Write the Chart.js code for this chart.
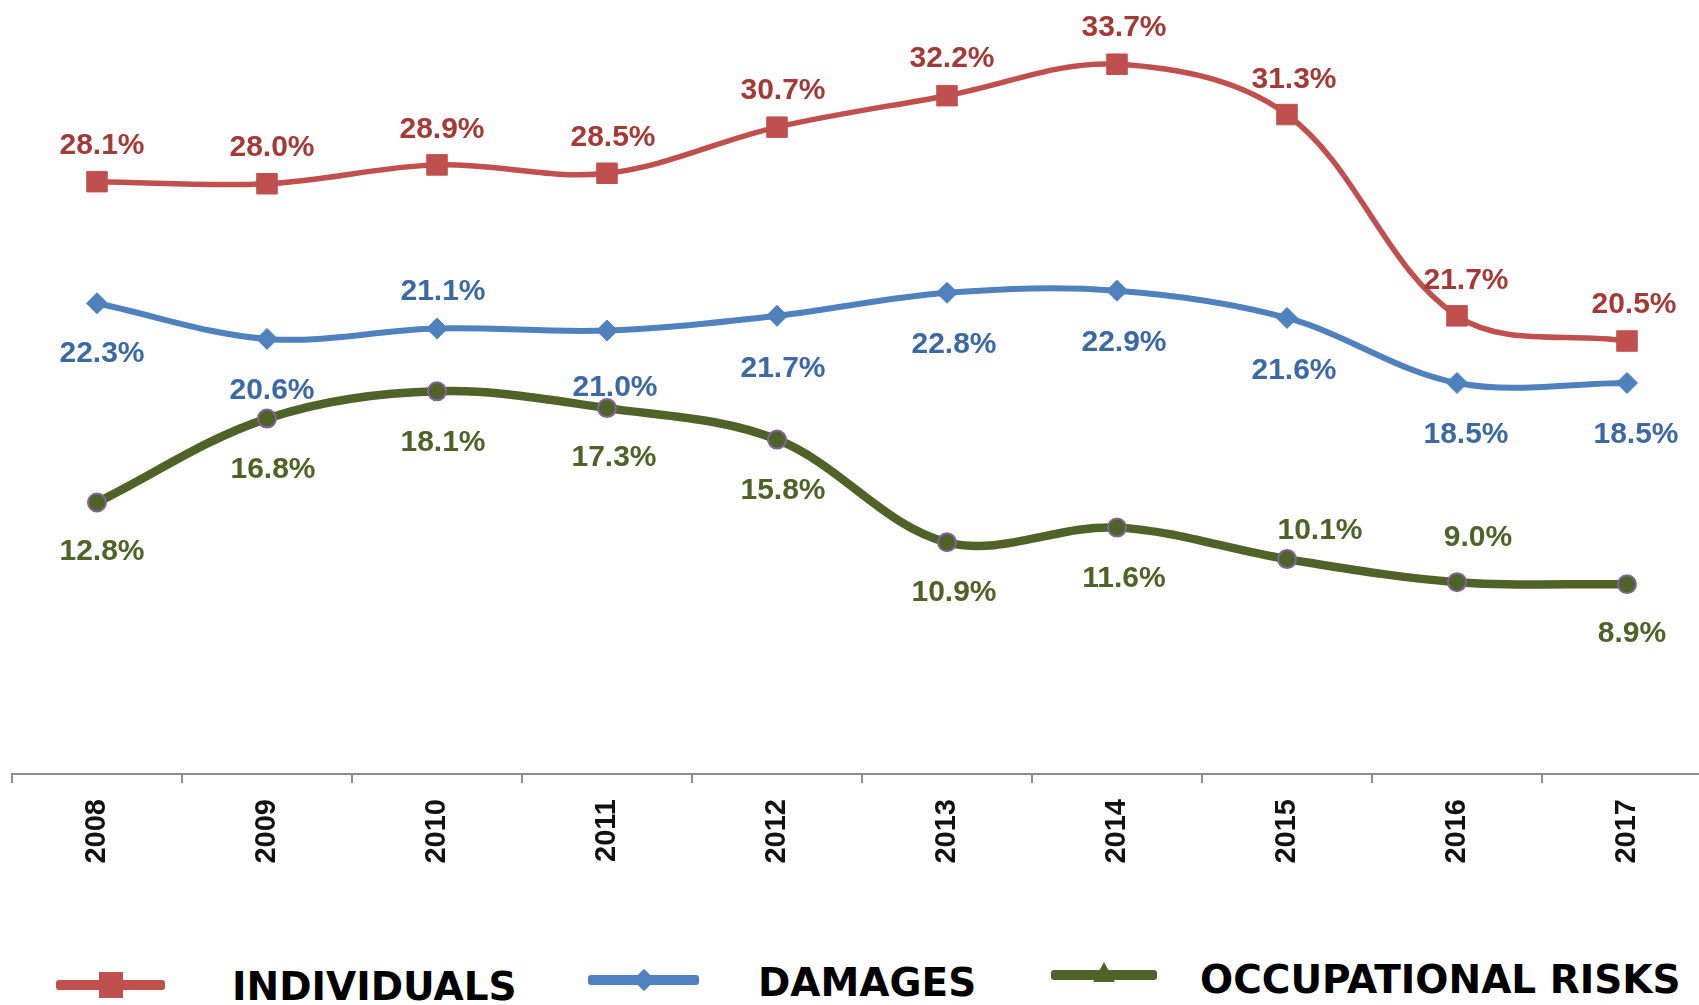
<!DOCTYPE html>
<html>
<head>
<meta charset="utf-8">
<script src="https://cdn.jsdelivr.net/npm/chart.js@4.4.1/dist/chart.umd.min.js"></script>
<style>
  html, body { margin: 0; padding: 0; background: #fff; overflow: hidden; }
  #wrap { position: relative; width: 1699px; height: 1005px; overflow: hidden; }
  #chart-box { position: absolute; left: 0; top: 0; width: 1712px; height: 900px; }
  .lg-line { position: absolute; height: 10px; border-radius: 3px; }
  .lg-mark { position: absolute; }
  .lg-text { position: absolute; font: bold 39px "DejaVu Sans"; line-height: 39px; white-space: nowrap; color: #000; }
</style>
</head>
<body>
<div id="wrap">
  <div id="chart-box"><canvas id="chart"></canvas></div>
  <div id="legend"></div>
</div>
<script>
const years = ['2008', '2009', '2010', '2011', '2012', '2013', '2014', '2015', '2016', '2017'];
const individuals = [28.1, 28.0, 28.9, 28.5, 30.7, 32.2, 33.7, 31.3, 21.7, 20.5];
const damages = [22.3, 20.6, 21.1, 21.0, 21.7, 22.8, 22.9, 21.6, 18.5, 18.5];
const occupationalRisks = [12.8, 16.8, 18.1, 17.3, 15.8, 10.9, 11.6, 10.1, 9.0, 8.9];
const seriesNames = ['INDIVIDUALS', 'DAMAGES', 'OCCUPATIONAL RISKS'];

const lineColors = ['#C0504D', '#4F81BD', '#4F6228'];
const labelColors = ['#a23b38', '#3d69a2', '#4f6228'];

// where each value label sits relative to its point (px)
const labelShift = [
  { dx: [5, 5, 5, 6, 6, 5, 7, 7, 9, 7], dy: [-39, -39, -38, -38, -39, -40, -39, -38, -38, -39] },
  { dx: [5, 5, 6, 8, 6, 7, 7, 7, 9, 9], dy: [48, 49, -39, 54, 50, 49, 49, 50, 49, 49] },
  { dx: [5, 6, 6, 7, 6, 7, 7, 33, 21, 5], dy: [47, 48, 49, 47, 48, 48, 48, -31, -47, 47] }
];

const valueLabels = {
  id: 'valueLabels',
  afterDatasetsDraw(chart) {
    const ctx = chart.ctx;
    ctx.save();
    ctx.font = 'bold 30px "Liberation Sans", Arial';
    ctx.textAlign = 'center';
    ctx.textBaseline = 'alphabetic';
    chart.data.datasets.forEach((ds, i) => {
      const meta = chart.getDatasetMeta(i);
      ctx.fillStyle = labelColors[i];
      meta.data.forEach((pt, j) => {
        const s = labelShift[i];
        ctx.fillText(ds.data[j].toFixed(1) + '%', pt.x + s.dx[j], pt.y + s.dy[j] + 11);
      });
    });
    ctx.restore();
  }
};

const chart = new Chart(document.getElementById('chart'), {
  type: 'line',
  plugins: [valueLabels],
  data: {
    labels: years,
    datasets: [
      {
        label: seriesNames[0],
        data: individuals,
        borderColor: lineColors[0],
        backgroundColor: lineColors[0],
        borderWidth: 5.5,
        pointStyle: 'rect',
        pointRadius: 14.5,
        pointBorderWidth: 1,
        tension: 0.35
      },
      {
        label: seriesNames[1],
        data: damages,
        borderColor: lineColors[1],
        backgroundColor: lineColors[1],
        borderWidth: 6,
        pointStyle: 'rectRot',
        pointRadius: 10.5,
        pointBorderWidth: 1,
        tension: 0.35
      },
      {
        label: seriesNames[2],
        data: occupationalRisks,
        borderColor: lineColors[2],
        backgroundColor: lineColors[2],
        borderWidth: 8.5,
        pointStyle: 'circle',
        pointRadius: 9,
        pointBorderColor: '#8064A2',
        pointBorderWidth: 2,
        tension: 0.35
      }
    ]
  },
  options: {
    responsive: true,
    maintainAspectRatio: false,
    animation: false,
    layout: { autoPadding: false, padding: { left: 12, right: 0, top: 16, bottom: 0 } },
    plugins: {
      legend: { display: false },
      tooltip: { enabled: false }
    },
    scales: {
      x: {
        offset: true,
        grid: { display: true, drawOnChartArea: false, drawTicks: true, tickLength: 9, offset: true, color: '#8c8c8c', lineWidth: 2 },
        border: { display: true, color: '#8c8c8c', width: 2 },
        ticks: {
          color: '#111',
          font: { family: '"Liberation Sans", Arial', size: 29, weight: 'bold' },
          minRotation: 90,
          maxRotation: 90,
          padding: 16,
          autoSkip: false
        },
        afterFit(scale) {
          scale.height = 126;
          scale.paddingLeft = 0;
          scale.paddingRight = 0;
        }
      },
      y: { display: false, min: -0.15, max: 36 }
    }
  }
});

// legend drawn as html under the canvas
const legendSpots = [
  { lineX: 56, lineW: 109, lineY: 985, textX: 232, baseY: 1000, mark: 'square' },
  { lineX: 588, lineW: 111, lineY: 980, textX: 758, baseY: 996, mark: 'diamond' },
  { lineX: 1051, lineW: 106, lineY: 975, textX: 1200, baseY: 993, mark: 'triangle' }
];

const legendBox = document.getElementById('legend');
chart.data.datasets.forEach((ds, i) => {
  const s = legendSpots[i];
  const cx = s.lineX + s.lineW / 2;
  const line = document.createElement('div');
  line.className = 'lg-line';
  line.style.left = s.lineX + 'px';
  line.style.top = (s.lineY - 5) + 'px';
  line.style.width = s.lineW + 'px';
  line.style.background = ds.borderColor;
  legendBox.appendChild(line);

  const mark = document.createElement('div');
  mark.className = 'lg-mark';
  if (s.mark === 'square') {
    Object.assign(mark.style, { left: (cx - 12) + 'px', top: (s.lineY - 13) + 'px', width: '24px', height: '26px', background: ds.borderColor });
  } else if (s.mark === 'diamond') {
    Object.assign(mark.style, { left: (cx - 8) + 'px', top: (s.lineY - 8) + 'px', width: '16px', height: '16px', background: ds.borderColor, transform: 'rotate(45deg)' });
  } else {
    Object.assign(mark.style, { left: (cx - 11) + 'px', top: (s.lineY - 13) + 'px', width: 0, height: 0,
      borderLeft: '11px solid transparent', borderRight: '11px solid transparent', borderBottom: '20px solid ' + ds.borderColor });
  }
  legendBox.appendChild(mark);

  const txt = document.createElement('div');
  txt.className = 'lg-text';
  txt.textContent = ds.label;
  txt.style.left = s.textX + 'px';
  txt.style.top = (s.baseY - 33) + 'px';
  legendBox.appendChild(txt);
});
</script>
</body>
</html>
